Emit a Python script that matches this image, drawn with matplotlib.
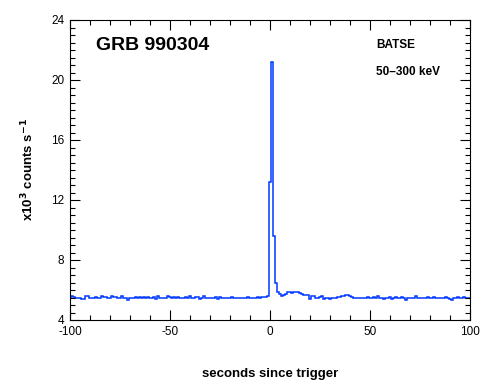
import numpy as np
import matplotlib
matplotlib.use("Agg")
import matplotlib.pyplot as plt
from matplotlib.ticker import MultipleLocator

plt.rcParams['font.family'] = ['Liberation Sans', 'DejaVu Sans']
plt.rcParams['axes.unicode_minus'] = False

# 1-s bins, first bin edge at t_start
t_start = -100.3
bin_width = 1.0
rate_pre = [5.45, 5.60, 5.52, 5.48, 5.48, 5.45, 5.40, 5.40, 5.60, 5.60,
            5.50, 5.50, 5.50, 5.55, 5.48, 5.45, 5.60, 5.52, 5.55, 5.48,
            5.48, 5.58, 5.52, 5.55, 5.48, 5.48, 5.58, 5.50, 5.45, 5.35,
            5.45, 5.45, 5.45, 5.52, 5.45, 5.55, 5.45, 5.52, 5.45, 5.55,
            5.48, 5.50, 5.55, 5.42, 5.60, 5.50, 5.48, 5.45, 5.50, 5.60,
            5.52, 5.45, 5.55, 5.48, 5.52, 5.45, 5.50, 5.45, 5.55, 5.45,
            5.58, 5.45, 5.45, 5.52, 5.55, 5.42, 5.50, 5.58, 5.48, 5.45,
            5.50, 5.50, 5.45, 5.55, 5.42, 5.55, 5.45, 5.45, 5.50, 5.45,
            5.45, 5.52, 5.45, 5.45, 5.50, 5.50, 5.48, 5.48, 5.45, 5.52,
            5.50, 5.48, 5.48, 5.50, 5.52, 5.50, 5.55, 5.52, 5.55, 5.62]
rate_post = [13.2, 21.2, 9.6, 6.45, 5.90, 5.73, 5.60, 5.65, 5.73, 5.90,
             5.85, 5.82, 5.90, 5.85, 5.90, 5.82, 5.72, 5.65, 5.65, 5.65,
             5.42, 5.58, 5.60, 5.50, 5.50, 5.55, 5.60, 5.42, 5.48, 5.45,
             5.40, 5.45, 5.50, 5.50, 5.55, 5.55, 5.60, 5.62, 5.65, 5.65,
             5.60, 5.55, 5.50, 5.50, 5.45, 5.50, 5.50, 5.45, 5.50, 5.55,
             5.48, 5.45, 5.55, 5.45, 5.58, 5.45, 5.50, 5.40, 5.50, 5.45,
             5.55, 5.42, 5.50, 5.55, 5.45, 5.50, 5.55, 5.45, 5.35, 5.50,
             5.45, 5.50, 5.45, 5.58, 5.50, 5.48, 5.45, 5.45, 5.45, 5.52,
             5.45, 5.45, 5.55, 5.50, 5.50, 5.50, 5.45, 5.45, 5.55, 5.45,
             5.40, 5.35, 5.45, 5.45, 5.52, 5.50, 5.50, 5.55, 5.48, 5.50,
             5.50]

rates = np.array(rate_pre + rate_post)
edges = t_start + bin_width * np.arange(len(rates) + 1)

fig = plt.figure(figsize=(4.9, 3.9), dpi=100)
ax = fig.add_axes([70/490, 70/390, 400/490, 300/390])

ax.stairs(rates, edges, color='#0038ff', lw=1.1)

ax.set_xlim(-100, 100)
ax.set_ylim(4, 24)
ax.xaxis.set_major_locator(MultipleLocator(50))
ax.xaxis.set_minor_locator(MultipleLocator(10))
ax.yaxis.set_major_locator(MultipleLocator(4))
ax.yaxis.set_minor_locator(MultipleLocator(0.5))
ax.tick_params(which='both', direction='in', top=True, right=True,
               width=0.8, labelsize=8.5, pad=4)
ax.tick_params(which='major', length=7)
ax.tick_params(which='minor', length=3.5)
for s in ax.spines.values():
    s.set_linewidth(0.8)

ax.set_xlabel('seconds since trigger', fontsize=9.5, fontweight='bold', labelpad=22)
ax.set_ylabel(r'x10$^{\mathbf{3}}$ counts s$^{\mathbf{-1}}$', fontsize=9.5,
              fontweight='bold', labelpad=11)

ax.text(96/490, 1 - 46/390, 'GRB 990304', transform=fig.transFigure,
        fontsize=14, fontweight='bold', va='center', ha='left')
ax.text(376/490, 1 - 45/390, 'BATSE', transform=fig.transFigure,
        fontsize=8.5, fontweight='bold', va='center', ha='left')
ax.text(376/490, 1 - 72/390, '50\u2013300 keV', transform=fig.transFigure,
        fontsize=8.5, fontweight='bold', va='center', ha='left')

fig.savefig('out.png', dpi=100)
